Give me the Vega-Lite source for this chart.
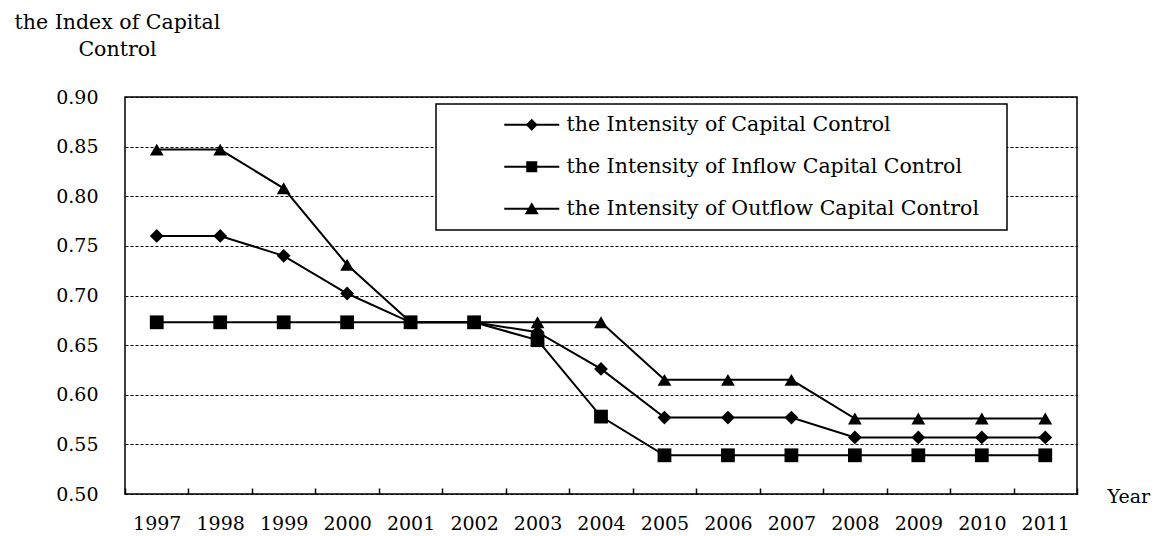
{
  "$schema": "https://vega.github.io/schema/vega-lite/v6.json",
  "width": 952,
  "height": 397,
  "autosize": "none",
  "padding": {"left": 125, "top": 97, "right": 80, "bottom": 42},
  "background": "white",
  "config": {
    "font": "DejaVu Serif",
    "view": {"stroke": "black", "strokeWidth": 1.5},
    "legend": {"strokeWidth": 1.5}
  },
  "data": {
    "values": [
      {"year": "1997", "series": "the Intensity of Capital Control", "value": 0.760},
      {"year": "1998", "series": "the Intensity of Capital Control", "value": 0.760},
      {"year": "1999", "series": "the Intensity of Capital Control", "value": 0.740},
      {"year": "2000", "series": "the Intensity of Capital Control", "value": 0.702},
      {"year": "2001", "series": "the Intensity of Capital Control", "value": 0.673},
      {"year": "2002", "series": "the Intensity of Capital Control", "value": 0.673},
      {"year": "2003", "series": "the Intensity of Capital Control", "value": 0.663},
      {"year": "2004", "series": "the Intensity of Capital Control", "value": 0.626},
      {"year": "2005", "series": "the Intensity of Capital Control", "value": 0.577},
      {"year": "2006", "series": "the Intensity of Capital Control", "value": 0.577},
      {"year": "2007", "series": "the Intensity of Capital Control", "value": 0.577},
      {"year": "2008", "series": "the Intensity of Capital Control", "value": 0.557},
      {"year": "2009", "series": "the Intensity of Capital Control", "value": 0.557},
      {"year": "2010", "series": "the Intensity of Capital Control", "value": 0.557},
      {"year": "2011", "series": "the Intensity of Capital Control", "value": 0.557},
      {"year": "1997", "series": "the Intensity of Inflow Capital Control", "value": 0.673},
      {"year": "1998", "series": "the Intensity of Inflow Capital Control", "value": 0.673},
      {"year": "1999", "series": "the Intensity of Inflow Capital Control", "value": 0.673},
      {"year": "2000", "series": "the Intensity of Inflow Capital Control", "value": 0.673},
      {"year": "2001", "series": "the Intensity of Inflow Capital Control", "value": 0.673},
      {"year": "2002", "series": "the Intensity of Inflow Capital Control", "value": 0.673},
      {"year": "2003", "series": "the Intensity of Inflow Capital Control", "value": 0.655},
      {"year": "2004", "series": "the Intensity of Inflow Capital Control", "value": 0.578},
      {"year": "2005", "series": "the Intensity of Inflow Capital Control", "value": 0.539},
      {"year": "2006", "series": "the Intensity of Inflow Capital Control", "value": 0.539},
      {"year": "2007", "series": "the Intensity of Inflow Capital Control", "value": 0.539},
      {"year": "2008", "series": "the Intensity of Inflow Capital Control", "value": 0.539},
      {"year": "2009", "series": "the Intensity of Inflow Capital Control", "value": 0.539},
      {"year": "2010", "series": "the Intensity of Inflow Capital Control", "value": 0.539},
      {"year": "2011", "series": "the Intensity of Inflow Capital Control", "value": 0.539},
      {"year": "1997", "series": "the Intensity of Outflow Capital Control", "value": 0.847},
      {"year": "1998", "series": "the Intensity of Outflow Capital Control", "value": 0.847},
      {"year": "1999", "series": "the Intensity of Outflow Capital Control", "value": 0.808},
      {"year": "2000", "series": "the Intensity of Outflow Capital Control", "value": 0.731},
      {"year": "2001", "series": "the Intensity of Outflow Capital Control", "value": 0.673},
      {"year": "2002", "series": "the Intensity of Outflow Capital Control", "value": 0.673},
      {"year": "2003", "series": "the Intensity of Outflow Capital Control", "value": 0.673},
      {"year": "2004", "series": "the Intensity of Outflow Capital Control", "value": 0.673},
      {"year": "2005", "series": "the Intensity of Outflow Capital Control", "value": 0.615},
      {"year": "2006", "series": "the Intensity of Outflow Capital Control", "value": 0.615},
      {"year": "2007", "series": "the Intensity of Outflow Capital Control", "value": 0.615},
      {"year": "2008", "series": "the Intensity of Outflow Capital Control", "value": 0.576},
      {"year": "2009", "series": "the Intensity of Outflow Capital Control", "value": 0.576},
      {"year": "2010", "series": "the Intensity of Outflow Capital Control", "value": 0.576},
      {"year": "2011", "series": "the Intensity of Outflow Capital Control", "value": 0.576}
    ]
  },
  "encoding": {
    "x": {
      "field": "year",
      "type": "ordinal",
      "scale": {"paddingInner": 0, "paddingOuter": 0},
      "axis": {
        "title": "Year",
        "titleFont": "DejaVu Serif",
        "titleFontSize": 19,
        "titleFontWeight": "normal",
        "titleColor": "black",
        "titleAlign": "left",
        "titleBaseline": "alphabetic",
        "titleX": 982,
        "titleY": 8,
        "titleAngle": 0,
        "labelAngle": 0,
        "labelFont": "DejaVu Serif",
        "labelFontSize": 19,
        "labelColor": "black",
        "labelPadding": 26,
        "domain": false,
        "ticks": true,
        "tickBand": "extent",
        "tickSize": -6,
        "tickColor": "black",
        "tickWidth": 1.5,
        "grid": false
      }
    },
    "y": {
      "field": "value",
      "type": "quantitative",
      "scale": {"domain": [0.5, 0.9], "zero": false, "nice": false},
      "axis": {
        "values": [0.5, 0.55, 0.6, 0.65, 0.7, 0.75, 0.8, 0.85, 0.9],
        "format": ".2f",
        "title": ["the Index of Capital", "Control"],
        "titleFont": "DejaVu Serif",
        "titleFontSize": 20.5,
        "titleFontWeight": "normal",
        "titleColor": "black",
        "titleAngle": 0,
        "titleAlign": "center",
        "titleBaseline": "alphabetic",
        "titleLineHeight": 27,
        "titleX": -8,
        "titleY": -69,
        "labelFont": "DejaVu Serif",
        "labelFontSize": 19,
        "labelColor": "black",
        "labelPadding": 27,
        "domain": false,
        "ticks": false,
        "grid": true,
        "gridColor": "black",
        "gridDash": [3, 2],
        "gridWidth": 1,
        "gridOpacity": 1
      }
    }
  },
  "layer": [
    {
      "mark": {"type": "line", "color": "black", "strokeWidth": 2},
      "encoding": {"detail": {"field": "series"}}
    },
    {
      "mark": {"type": "point", "filled": true, "color": "black", "opacity": 1, "size": 190},
      "encoding": {
        "shape": {
          "field": "series",
          "type": "nominal",
          "scale": {
            "domain": ["the Intensity of Capital Control", "the Intensity of Inflow Capital Control", "the Intensity of Outflow Capital Control"],
            "range": ["diamond", "square", "triangle-up"]
          },
          "legend": null
        }
      }
    },
    {
      "mark": {"type": "point", "filled": true, "color": "black", "size": 0},
      "encoding": {
        "shape": {
          "field": "series",
          "type": "nominal",
          "scale": {
            "domain": ["the Intensity of Capital Control", "the Intensity of Inflow Capital Control", "the Intensity of Outflow Capital Control"],
            "range": [
              "M-2.75,-0.1H2.75V0.1H-2.75ZM0,-0.6L0.6,0L0,0.6L-0.6,0Z",
              "M-2.75,-0.1H2.75V0.1H-2.75ZM-0.55,-0.55H0.55V0.55H-0.55Z",
              "M-2.75,-0.1H2.75V0.1H-2.75ZM0,-0.65L0.7,0.55H-0.7Z"
            ]
          },
          "legend": {
            "orient": "none",
            "legendX": 311,
            "legendY": 7,
            "direction": "vertical",
            "padding": 10.5,
            "symbolOffset": 75,
            "labelOffset": 24.5,
            "rowPadding": 21,
            "labelFont": "DejaVu Serif",
            "labelFontSize": 20.5,
            "labelColor": "black",
            "labelLimit": 0,
            "title": " ",
            "titleOrient": "right",
            "titlePadding": 18,
            "symbolSize": 400,
            "symbolOpacity": 1,
            "symbolFillColor": "black",
            "symbolStrokeWidth": 0,
            "strokeColor": "black",
            "fillColor": "white"
          }
        }
      }
    }
  ],
  "resolve": {"scale": {"shape": "independent"}}
}
